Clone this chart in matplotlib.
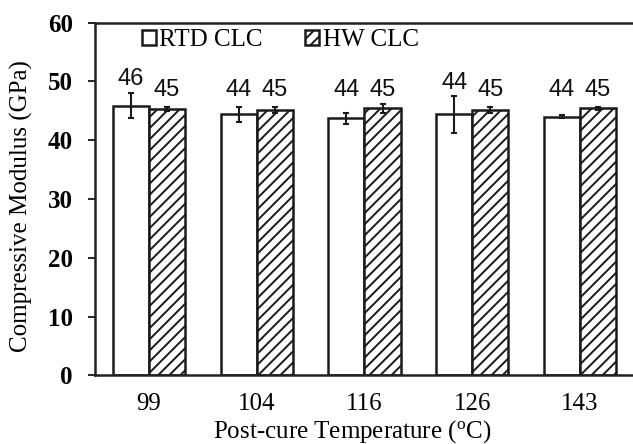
import numpy as np
from matplotlib import pyplot as plt

plt.rcParams['mathtext.fontset'] = 'custom'
plt.rcParams['mathtext.rm'] = 'Liberation Serif'
plt.rcParams['hatch.linewidth'] = 1.4

# post-cure temperatures and compressive modulus (GPa)
temps = ['99', '104', '116', '126', '143']
rtd_mod = [45.9, 44.4, 43.7, 44.4, 44.0]
rtd_err = [2.2, 1.3, 1.0, 3.1, 0.3]
hw_mod = [45.3, 45.1, 45.4, 45.2, 45.4]
hw_err = [0.3, 0.5, 0.8, 0.5, 0.3]

serif = 'Liberation Serif'
sans = 'Liberation Sans'

fig = plt.figure(figsize=(6.33, 4.44), dpi=100)
ax = fig.add_axes([0.150, 0.1547, 0.8515, 0.7942])

x = np.arange(len(temps))
w = 0.335
ax.bar(x - w/2, rtd_mod, w, color='white', edgecolor='#1a1a1a', linewidth=1.8,
       label='RTD CLC')
ax.bar(x + w/2, hw_mod, w, color='white', edgecolor='#1a1a1a', linewidth=1.8,
       hatch='///', label='HW CLC')
ax.errorbar(x - w/2, rtd_mod, yerr=rtd_err, fmt='none', ecolor='#1a1a1a',
            elinewidth=1.5, capsize=2.5, capthick=1.5)
ax.errorbar(x + w/2, hw_mod, yerr=hw_err, fmt='none', ecolor='#1a1a1a',
            elinewidth=1.5, capsize=2.5, capthick=1.5)

# value labels above each bar
for xs, vals, errs in [(x - w/2, rtd_mod, rtd_err), (x + w/2, hw_mod, hw_err)]:
    for xi, v, e in zip(xs, vals, errs):
        y = max(v + e + 0.4, 46.6)
        ax.text(xi, y, '%.0f' % v, ha='center', va='bottom', fontsize=17,
                family=sans, color='#111111')

ax.set_ylim(0, 60)
ax.set_xlim(-0.5, len(temps) - 0.5)
ax.set_yticks(range(0, 61, 10))
ax.set_xticks(x)
ax.set_xticklabels(temps)
for lab in ax.get_yticklabels():
    lab.set_fontfamily(serif)
    lab.set_fontweight('bold')
    lab.set_fontsize(18)
for lab in ax.get_xticklabels():
    lab.set_fontfamily(serif)
    lab.set_fontsize(18)
ax.tick_params(axis='y', direction='out', length=5, width=1.2, pad=11)
ax.tick_params(axis='x', length=0, pad=13)

for s in ['left', 'bottom', 'top']:
    ax.spines[s].set_linewidth(1.8)
    ax.spines[s].set_color('#222222')
ax.spines['right'].set_visible(False)

ax.set_ylabel('Compressive Modulus (GPa)', fontsize=18, family=serif)
ax.set_xlabel(r'Post-cure Temperature ($\mathregular{^{o}}$C)', fontsize=18, family=serif)
ax.xaxis.set_label_coords(0.478, -0.122)
ax.yaxis.set_label_coords(-0.115, 0.48)

ax.legend(loc='center left', bbox_to_anchor=(0.087, 0.951), ncol=2, frameon=False,
          prop={'family': serif, 'size': 18}, handlelength=0.55, handleheight=0.55,
          handletextpad=0.15, columnspacing=1.7, borderaxespad=0, borderpad=0)

fig.savefig('out.png', dpi=100)
